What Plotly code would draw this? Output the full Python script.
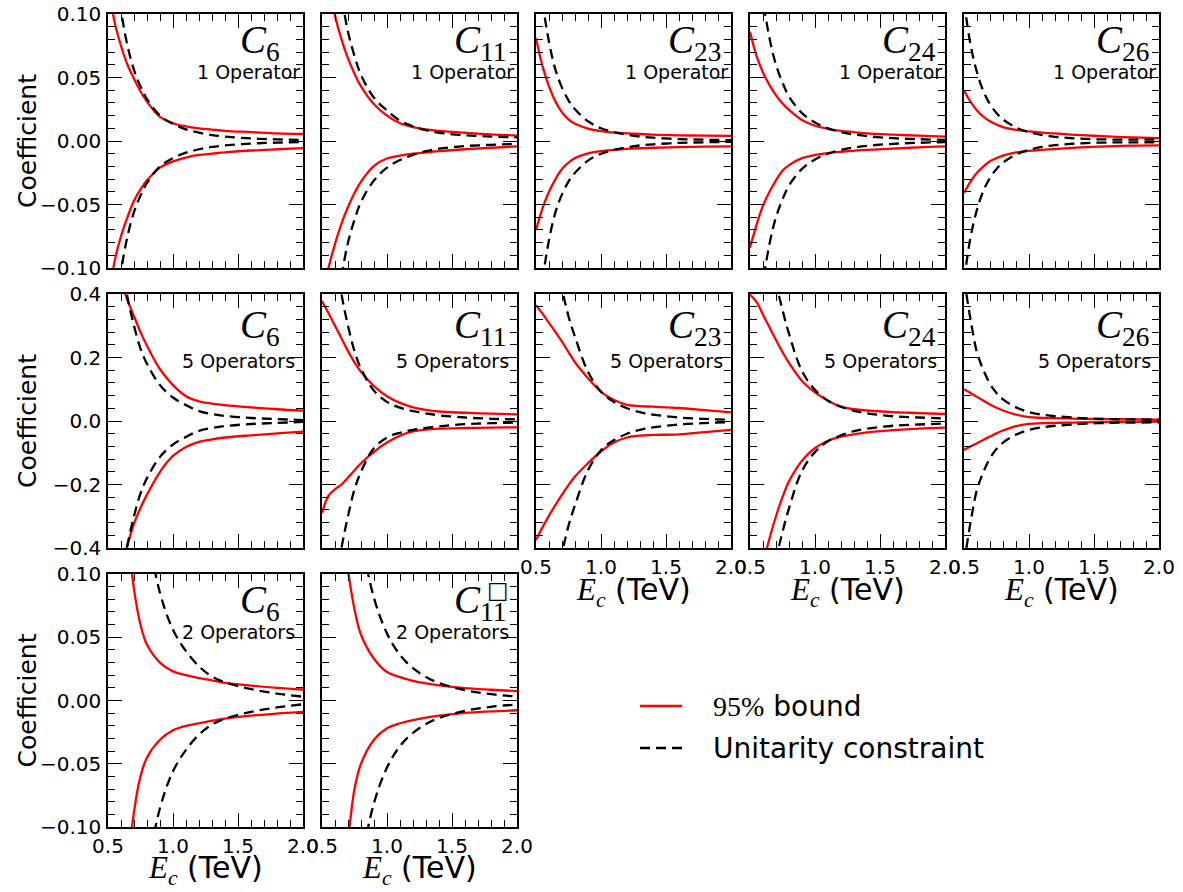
import plotly.graph_objects as go

# ---------------- data ----------------
E = [0.5, 0.55, 0.6, 0.65, 0.7, 0.75, 0.8, 0.9, 1.0, 1.1, 1.2, 1.3, 1.4, 1.6, 1.8, 2.0]

# Row 1 : 1 Operator
c6_1_bound_hi = [0.125, 0.094, 0.075, 0.060, 0.049, 0.039, 0.031, 0.019, 0.014, 0.0115, 0.010, 0.009, 0.008, 0.007, 0.006, 0.0055]
c6_1_bound_lo = [-0.13, -0.095, -0.075, -0.060, -0.047, -0.038, -0.031, -0.021, -0.016, -0.013, -0.011, -0.010, -0.009, -0.0075, -0.0065, -0.0056]
c6_1_unit_hi = [0.21, 0.146, 0.103, 0.075, 0.056, 0.043, 0.033, 0.020, 0.0134, 0.0092, 0.0065, 0.0047, 0.0035, 0.002, 0.0013, 0.0008]
c6_1_unit_lo = [-0.21, -0.146, -0.103, -0.075, -0.056, -0.043, -0.033, -0.020, -0.0134, -0.0092, -0.0065, -0.0047, -0.0035, -0.002, -0.0013, -0.0008]

c11_1_bound_hi = [0.17, 0.13, 0.099, 0.080, 0.065, 0.053, 0.043, 0.029, 0.020, 0.014, 0.011, 0.0092, 0.008, 0.0065, 0.0052, 0.0043]
c11_1_bound_lo = [-0.122, -0.100, -0.081, -0.065, -0.052, -0.041, -0.032, -0.0195, -0.0138, -0.0115, -0.010, -0.009, -0.008, -0.0065, -0.0053, -0.0043]
c11_1_unit_hi = [0.30, 0.22, 0.16, 0.115, 0.086, 0.067, 0.052, 0.034, 0.024, 0.016, 0.0115, 0.0085, 0.0065, 0.0045, 0.0035, 0.0028]
c11_1_unit_lo = [-0.27, -0.20, -0.145, -0.107, -0.08, -0.062, -0.048, -0.031, -0.021, -0.015, -0.011, -0.008, -0.006, -0.004, -0.003, -0.0022]

c23_1_bound_hi = [0.081, 0.059, 0.043, 0.031, 0.0225, 0.017, 0.0135, 0.0097, 0.0077, 0.0066, 0.006, 0.0055, 0.005, 0.0045, 0.0042, 0.004]
c23_1_bound_lo = [-0.070, -0.053, -0.040, -0.030, -0.022, -0.017, -0.0135, -0.0097, -0.008, -0.007, -0.0062, -0.0057, -0.0053, -0.0048, -0.0045, -0.0043]
c23_1_unit_hi = [0.16, 0.11, 0.078, 0.056, 0.042, 0.032, 0.025, 0.0155, 0.010, 0.0069, 0.0049, 0.0035, 0.0026, 0.0015, 0.001, 0.0007]
c23_1_unit_lo = [-0.16, -0.11, -0.078, -0.056, -0.042, -0.032, -0.025, -0.0155, -0.010, -0.0069, -0.0049, -0.0035, -0.0026, -0.0015, -0.001, -0.0007]

c24_1_bound_hi = [0.086, 0.067, 0.054, 0.044, 0.036, 0.0295, 0.0245, 0.0165, 0.012, 0.0095, 0.008, 0.007, 0.006, 0.005, 0.0042, 0.0035]
c24_1_bound_lo = [-0.084, -0.066, -0.051, -0.040, -0.031, -0.0235, -0.019, -0.0135, -0.011, -0.0095, -0.0085, -0.0077, -0.007, -0.006, -0.005, -0.0043]
c24_1_unit_hi = [0.232, 0.158, 0.112, 0.081, 0.060, 0.046, 0.035, 0.022, 0.0145, 0.0099, 0.007, 0.0051, 0.0038, 0.0022, 0.0014, 0.0009]
c24_1_unit_lo = [-0.232, -0.158, -0.112, -0.081, -0.060, -0.046, -0.035, -0.022, -0.0145, -0.0099, -0.007, -0.0051, -0.0038, -0.0022, -0.0014, -0.0009]

c26_1_bound_hi = [0.040, 0.031, 0.024, 0.019, 0.0155, 0.013, 0.011, 0.0088, 0.0075, 0.0066, 0.006, 0.0052, 0.0046, 0.0036, 0.0028, 0.0022]
c26_1_bound_lo = [-0.041, -0.032, -0.025, -0.020, -0.016, -0.0135, -0.0115, -0.009, -0.0078, -0.007, -0.0063, -0.0056, -0.005, -0.0042, -0.0037, -0.0035]
c26_1_unit_hi = [0.11, 0.076, 0.054, 0.039, 0.029, 0.022, 0.017, 0.0106, 0.0069, 0.0047, 0.0033, 0.0024, 0.0018, 0.0012, 0.0011, 0.001]
c26_1_unit_lo = [-0.11, -0.076, -0.054, -0.039, -0.029, -0.022, -0.017, -0.0106, -0.0069, -0.0047, -0.0033, -0.0024, -0.0018, -0.0012, -0.0011, -0.001]

# Row 2 : 5 Operators
c6_5_bound_hi = [0.56, 0.50, 0.44, 0.38, 0.33, 0.28, 0.237, 0.163, 0.113, 0.078, 0.062, 0.055, 0.050, 0.043, 0.037, 0.0325]
c6_5_bound_lo = [-0.58, -0.51, -0.45, -0.39, -0.323, -0.274, -0.232, -0.16, -0.11, -0.082, -0.066, -0.058, -0.052, -0.045, -0.039, -0.0336]
c6_5_unit_hi = [1.05, 0.72, 0.52, 0.39, 0.30, 0.228, 0.18, 0.113, 0.074, 0.05, 0.031, 0.022, 0.016, 0.0095, 0.006, 0.003]
c6_5_unit_lo = [-1.05, -0.72, -0.52, -0.39, -0.30, -0.228, -0.18, -0.113, -0.074, -0.05, -0.031, -0.022, -0.016, -0.0095, -0.006, -0.003]

c11_5_bound_hi = [0.378, 0.34, 0.30, 0.26, 0.22, 0.185, 0.155, 0.11, 0.078, 0.057, 0.043, 0.035, 0.030, 0.026, 0.023, 0.021]
c11_5_bound_lo = [-0.29, -0.235, -0.215, -0.20, -0.178, -0.156, -0.133, -0.097, -0.068, -0.046, -0.033, -0.027, -0.024, -0.022, -0.021, -0.020]
c11_5_unit_hi = [1.0, 0.75, 0.55, 0.40, 0.30, 0.22, 0.165, 0.095, 0.060, 0.042, 0.031, 0.024, 0.018, 0.011, 0.007, 0.005]
c11_5_unit_lo = [-1.0, -0.75, -0.55, -0.40, -0.30, -0.215, -0.16, -0.085, -0.052, -0.037, -0.028, -0.022, -0.017, -0.010, -0.007, -0.005]

c23_5_bound_hi = [0.365, 0.338, 0.309, 0.28, 0.25, 0.217, 0.185, 0.135, 0.092, 0.066, 0.051, 0.047, 0.045, 0.041, 0.034, 0.027]
c23_5_bound_lo = [-0.375, -0.335, -0.298, -0.264, -0.232, -0.202, -0.175, -0.133, -0.096, -0.068, -0.052, -0.046, -0.044, -0.042, -0.035, -0.028]
c23_5_unit_hi = [1.6, 1.1, 0.78, 0.56, 0.42, 0.33, 0.265, 0.155, 0.092, 0.060, 0.040, 0.028, 0.020, 0.011, 0.0065, 0.004]
c23_5_unit_lo = [-1.6, -1.1, -0.78, -0.56, -0.42, -0.33, -0.265, -0.155, -0.092, -0.060, -0.040, -0.028, -0.020, -0.011, -0.0065, -0.004]

c24_5_bound_hi = [0.398, 0.375, 0.335, 0.295, 0.255, 0.217, 0.183, 0.126, 0.09, 0.064, 0.045, 0.037, 0.033, 0.028, 0.025, 0.022]
c24_5_bound_lo = [-0.62, -0.53, -0.45, -0.37, -0.30, -0.24, -0.19, -0.125, -0.085, -0.062, -0.049, -0.042, -0.036, -0.029, -0.024, -0.021]
c24_5_unit_hi = [1.7, 1.2, 0.85, 0.62, 0.44, 0.35, 0.275, 0.157, 0.098, 0.064, 0.045, 0.032, 0.024, 0.015, 0.011, 0.008]
c24_5_unit_lo = [-1.7, -1.2, -0.85, -0.62, -0.44, -0.35, -0.275, -0.157, -0.098, -0.064, -0.045, -0.032, -0.024, -0.015, -0.011, -0.008]

c26_5_bound_hi = [0.10, 0.088, 0.076, 0.064, 0.052, 0.042, 0.033, 0.020, 0.012, 0.010, 0.009, 0.008, 0.007, 0.006, 0.005, 0.004]
c26_5_bound_lo = [-0.091, -0.080, -0.070, -0.059, -0.049, -0.039, -0.030, -0.016, -0.009, -0.007, -0.006, -0.005, -0.0045, -0.0035, -0.0028, -0.002]
c26_5_unit_hi = [0.45, 0.32, 0.216, 0.16, 0.117, 0.088, 0.068, 0.043, 0.028, 0.02, 0.015, 0.012, 0.009, 0.006, 0.005, 0.004]
c26_5_unit_lo = [-0.45, -0.32, -0.216, -0.16, -0.117, -0.088, -0.068, -0.043, -0.028, -0.02, -0.015, -0.012, -0.009, -0.006, -0.005, -0.004]

# Row 3 : 2 Operators
c6_2_bound_hi = [0.40, 0.28, 0.20, 0.135, 0.088, 0.060, 0.044, 0.030, 0.023, 0.020, 0.0177, 0.016, 0.014, 0.0118, 0.010, 0.0087]
c6_2_bound_lo = [-0.40, -0.28, -0.20, -0.135, -0.088, -0.060, -0.045, -0.031, -0.0235, -0.020, -0.018, -0.016, -0.0143, -0.012, -0.0103, -0.009]
c6_2_unit_hi = [0.9, 0.62, 0.43, 0.31, 0.233, 0.177, 0.137, 0.085, 0.056, 0.039, 0.027, 0.019, 0.0145, 0.009, 0.0055, 0.003]
c6_2_unit_lo = [-0.9, -0.62, -0.43, -0.31, -0.233, -0.177, -0.137, -0.085, -0.056, -0.039, -0.027, -0.019, -0.0145, -0.009, -0.0055, -0.003]

c11_2_bound_hi = [0.35, 0.26, 0.19, 0.14, 0.103, 0.072, 0.052, 0.033, 0.0225, 0.0185, 0.0155, 0.0135, 0.012, 0.0098, 0.0085, 0.0074]
c11_2_bound_lo = [-0.36, -0.27, -0.20, -0.15, -0.11, -0.07, -0.050, -0.031, -0.022, -0.018, -0.0155, -0.0135, -0.012, -0.0098, -0.0086, -0.0077]
c11_2_unit_hi = [0.85, 0.58, 0.41, 0.30, 0.22, 0.168, 0.13, 0.081, 0.053, 0.036, 0.0256, 0.0186, 0.0138, 0.0081, 0.005, 0.0031]
c11_2_unit_lo = [-0.85, -0.58, -0.41, -0.30, -0.22, -0.168, -0.13, -0.081, -0.053, -0.036, -0.0256, -0.0186, -0.0138, -0.0081, -0.005, -0.0031]

x_ticks = [0.5, 1.0, 1.5, 2.0]
y_ticks_small = [-0.10, -0.05, 0.0, 0.05, 0.10]
y_ticks_large = [-0.4, -0.2, 0.0, 0.2, 0.4]

# ---------------- layout helpers ----------------
W, H = 1183, 892
COLS = [(108, 303), (322, 517), (536, 731), (750, 945), (964, 1159)]
ROWS = [(14, 268), (294, 548), (574, 827)]
SERIF = "Liberation Serif"
SANS = "DejaVu Sans"

panels = [
    (0, 0, "6", "1 Operator", c6_1_bound_hi, c6_1_bound_lo, c6_1_unit_hi, c6_1_unit_lo, False, False),
    (0, 1, "11", "1 Operator", c11_1_bound_hi, c11_1_bound_lo, c11_1_unit_hi, c11_1_unit_lo, False, False),
    (0, 2, "23", "1 Operator", c23_1_bound_hi, c23_1_bound_lo, c23_1_unit_hi, c23_1_unit_lo, False, False),
    (0, 3, "24", "1 Operator", c24_1_bound_hi, c24_1_bound_lo, c24_1_unit_hi, c24_1_unit_lo, False, False),
    (0, 4, "26", "1 Operator", c26_1_bound_hi, c26_1_bound_lo, c26_1_unit_hi, c26_1_unit_lo, False, False),
    (1, 0, "6", "5 Operators", c6_5_bound_hi, c6_5_bound_lo, c6_5_unit_hi, c6_5_unit_lo, False, False),
    (1, 1, "11", "5 Operators", c11_5_bound_hi, c11_5_bound_lo, c11_5_unit_hi, c11_5_unit_lo, False, False),
    (1, 2, "23", "5 Operators", c23_5_bound_hi, c23_5_bound_lo, c23_5_unit_hi, c23_5_unit_lo, True, False),
    (1, 3, "24", "5 Operators", c24_5_bound_hi, c24_5_bound_lo, c24_5_unit_hi, c24_5_unit_lo, True, False),
    (1, 4, "26", "5 Operators", c26_5_bound_hi, c26_5_bound_lo, c26_5_unit_hi, c26_5_unit_lo, True, False),
    (2, 0, "6", "2 Operators", c6_2_bound_hi, c6_2_bound_lo, c6_2_unit_hi, c6_2_unit_lo, True, False),
    (2, 1, "11", "2 Operators", c11_2_bound_hi, c11_2_bound_lo, c11_2_unit_hi, c11_2_unit_lo, True, True),
]

RED = "#ff0000"
DASH = "10px,6px"

fig = go.Figure()
layout = dict(
    template="none",
    width=W, height=H, autosize=False,
    margin=dict(l=0, r=0, t=0, b=0, pad=0),
    paper_bgcolor="white", plot_bgcolor="white",
    showlegend=False,
    font=dict(family=SANS, color="black"),
)
annotations = []
shapes = []

def px_x(p):
    return p / W

def px_y(p):
    return 1 - p / H

for i, (r, c, sub, ops, bhi, blo, uhi, ulo, showx, box) in enumerate(panels):
    n = i + 1
    xa = "x" if n == 1 else f"x{n}"
    ya = "y" if n == 1 else f"y{n}"
    for ys, col, dash in ((bhi, RED, "solid"), (blo, RED, "solid"), (uhi, "black", DASH), (ulo, "black", DASH)):
        fig.add_trace(go.Scatter(
            x=E, y=ys, mode="lines", xaxis=xa, yaxis=ya,
            line=dict(color=col, width=2.3, dash=dash, shape="spline", smoothing=1.0),
            hoverinfo="skip", showlegend=False))
    x0, x1 = COLS[c]
    y0, y1 = ROWS[r]
    big = (r == 1)
    common = dict(
        showline=True, linecolor="black", linewidth=1.5, mirror="allticks",
        ticks="inside", ticklen=14, tickwidth=1.2, tickcolor="black",
        showgrid=False, zeroline=False, fixedrange=True, automargin=False,
        tickfont=dict(family=SANS, size=20, color="black"),
    )
    layout[f"xaxis{'' if n == 1 else n}"] = dict(
        common, domain=[px_x(x0), px_x(x1)], anchor=ya, range=[0.5, 2.0],
        tickmode="array", tickvals=x_ticks, ticktext=[f"{v:.1f}" for v in x_ticks],
        showticklabels=showx, ticklabelstandoff=0,
        minor=dict(ticks="inside", ticklen=7, tickwidth=1, tickcolor="black", dtick=0.1, showgrid=False),
    )
    yt = y_ticks_large if big else y_ticks_small
    layout[f"yaxis{'' if n == 1 else n}"] = dict(
        common, domain=[px_y(y1), px_y(y0)], anchor=xa,
        range=[-0.4, 0.4] if big else [-0.1, 0.1],
        tickmode="array", tickvals=yt,
        ticktext=[(f"{v:.1f}" if big else f"{v:.2f}").replace("-", "\u2212") for v in yt],
        showticklabels=(c == 0), ticklabelstandoff=1,
        minor=dict(ticks="inside", ticklen=7, tickwidth=1, tickcolor="black",
                   dtick=0.04 if big else 0.01, tick0=0, showgrid=False),
    )
    # panel labels
    cy = y0 + (33.5 if big else 28)
    annotations.append(dict(
        text=f"<i>C</i><sub>{sub}</sub>", x=px_x(x0 + 130), y=px_y(cy), xref="paper", yref="paper",
        xanchor="left", yanchor="middle", showarrow=False,
        font=dict(family=SERIF, size=39, color="black")))
    if box:
        annotations.append(dict(
            text="\u25a1", x=px_x(x0 + 176), y=px_y(y0 + 16), xref="paper", yref="paper",
            xanchor="center", yanchor="middle", showarrow=False,
            font=dict(family=SANS, size=23, color="black")))
    oy = y0 + (67 if big else 58)
    ox = x1 - (1 if ops.startswith("1 ") else 6)
    annotations.append(dict(
        text=ops, x=px_x(ox), y=px_y(oy), xref="paper", yref="paper",
        xanchor="right", yanchor="middle", showarrow=False,
        font=dict(family=SANS, size=19, color="black")))
    if showx:
        annotations.append(dict(
            text=f'<span style="font-family:{SERIF}; font-size:31px"><i>E</i><sub><i>c</i></sub></span> (TeV)',
            x=px_x((x0 + x1) / 2), y=px_y(592 if r == 1 else 870), xref="paper", yref="paper",
            xanchor="center", yanchor="middle", showarrow=False,
            font=dict(family=SANS, size=30, color="black")))
    if c == 0:
        annotations.append(dict(
            text="Coefficient", x=px_x(27), y=px_y((y0 + y1) / 2), xref="paper", yref="paper",
            xanchor="center", yanchor="middle", showarrow=False, textangle=-90,
            font=dict(family=SANS, size=25, color="black")))

# legend (drawn manually)
shapes.append(dict(type="line", xref="paper", yref="paper",
                   x0=px_x(640), x1=px_x(682), y0=px_y(706), y1=px_y(706),
                   line=dict(color=RED, width=2.3)))
shapes.append(dict(type="line", xref="paper", yref="paper",
                   x0=px_x(640), x1=px_x(682), y0=px_y(748), y1=px_y(748),
                   line=dict(color="black", width=2.3, dash=DASH)))
annotations.append(dict(
    text=f'<span style="font-family:{SERIF}">95%</span> bound', x=px_x(711), y=px_y(706),
    xref="paper", yref="paper", xanchor="left", yanchor="middle", showarrow=False,
    font=dict(family=SANS, size=28, color="black")))
annotations.append(dict(
    text="Unitarity constraint", x=px_x(711), y=px_y(748),
    xref="paper", yref="paper", xanchor="left", yanchor="middle", showarrow=False,
    font=dict(family=SANS, size=28, color="black")))

layout["annotations"] = annotations
layout["shapes"] = shapes
fig.update_layout(**layout)
fig.write_html("out.html")
